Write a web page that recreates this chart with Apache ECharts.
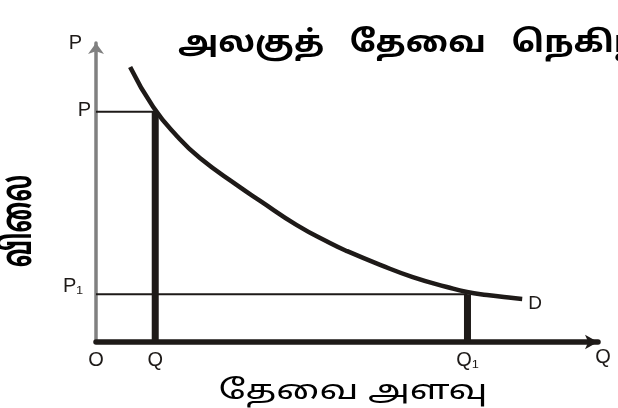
<!DOCTYPE html>
<html>
<head>
<meta charset="utf-8">
<script src="https://cdn.jsdelivr.net/npm/echarts@6/dist/echarts.min.js"></script>
<style>
  html, body { margin: 0; padding: 0; background: #fff; }
  #chart { width: 618px; height: 408px; }
</style>
</head>
<body>
<div id="chart"></div>
<script>
// demand curve D (quantity / price on 0-100 scales)
const demandQty = [6.8, 11.4, 16.1, 20.7, 28.3, 32.7, 40, 46.6, 50, 56.6, 63.1, 69.9, 73.9, 77.9, 83.1, 84.9]
const demandPrice = [92, 78.6, 68.9, 61.5, 52.2, 47.2, 39.1, 33.1, 30.4, 25.8, 21.7, 18.4, 16.7, 15.7, 14.7, 14.4]

// price levels P, P1 and matching quantities Q, Q1
const priceLevels = [77, 16]
const priceLabels = ['P', 'P₁']
const qtyLevels = [11.8, 74]
const qtyLabels = ['Q', 'Q₁']

const ink = '#1e1a18'
const latin = '"Liberation Sans", Arial, sans-serif'
const tamil = '"Noto Sans Tamil", "Lohit Tamil", "Noto Sans", sans-serif'

const chart = echarts.init(document.getElementById('chart'))

// horizontal guide from the price axis to the curve
const priceGuides = priceLevels.map((p, i) => ({
  type: 'line',
  silent: true,
  symbol: 'none',
  data: [[0, p], [qtyLevels[i], p]],
  lineStyle: { color: ink, width: 2 },
  z: 3
}))

// thick vertical bars from the curve down to the quantity axis
const qtyBars = qtyLevels.map((q, i) => ({
  type: 'line',
  silent: true,
  symbol: 'none',
  data: [[q, 0], [q, priceLevels[i]]],
  lineStyle: { color: ink, width: 7 },
  z: 3
}))

const option = {
  animation: false,
  grid: { left: 96, right: 20, top: 43, bottom: 66 },
  xAxis: {
    type: 'value',
    min: 0,
    max: 100,
    splitLine: { show: false },
    axisTick: { show: false },
    axisLine: {
      onZero: false,
      lineStyle: { color: ink, width: 5.5 },
      symbol: ['none', 'arrow'],
      symbolSize: [11, 13]
    },
    axisLabel: {
      customValues: [0].concat(qtyLevels),
      formatter: v => (v === 0 ? 'O' : qtyLabels[qtyLevels.indexOf(v)]),
      color: ink,
      fontFamily: latin,
      fontSize: 20,
      margin: 8
    },
    name: 'Q',
    nameLocation: 'end',
    nameGap: 5,
    nameTextStyle: { color: ink, fontFamily: latin, fontSize: 20, align: 'center', verticalAlign: 'top', padding: [5, 0, 0, 0] }
  },
  yAxis: {
    type: 'value',
    min: 0,
    max: 100,
    splitLine: { show: false },
    axisTick: { show: false },
    axisLine: {
      onZero: false,
      lineStyle: { color: '#808080', width: 3.5 },
      symbol: ['none', 'arrow'],
      symbolSize: [12, 11]
    },
    axisLabel: {
      customValues: priceLevels,
      formatter: v => {
        const i = priceLevels.indexOf(v)
        return i === 0 ? '{a|' + priceLabels[i] + '}' : '{b|' + priceLabels[i] + '}'
      },
      margin: 5,
      rich: {
        a: { color: ink, fontFamily: latin, fontSize: 20, padding: [0, 0, 3, 0] },
        b: { color: ink, fontFamily: latin, fontSize: 20, padding: [0, 8, 16, 0] }
      }
    },
    name: 'P',
    nameLocation: 'end',
    nameGap: 0,
    nameTextStyle: { color: ink, fontFamily: latin, fontSize: 20, align: 'right', verticalAlign: 'middle', padding: [0, 14, 0, 0] }
  },
  graphic: [
    {
      type: 'text',
      x: 178,
      y: 46,
      scaleX: 1.1,
      style: { text: 'அலகுத்   தேவை   நெகிழ்ச்சி', font: 'bold 30px ' + tamil, fill: '#000', verticalAlign: 'middle' }
    },
    {
      type: 'text',
      x: 23,
      y: 221,
      rotation: Math.PI / 2,
      scaleX: 0.8,
      scaleY: 1.4,
      style: { text: 'விலை', font: 'bold 30px ' + tamil, fill: '#000', align: 'center', verticalAlign: 'middle' }
    },
    {
      type: 'text',
      x: 353,
      y: 394,
      scaleX: 1.38,
      style: { text: 'தேவை அளவு', font: '27px ' + tamil, fill: '#000', align: 'center', verticalAlign: 'middle' }
    }
  ],
  series: [
    {
      name: 'D',
      type: 'line',
      smooth: 0.5,
      symbol: 'none',
      silent: true,
      data: demandQty.map((q, i) => [q, demandPrice[i]]),
      lineStyle: { color: ink, width: 4.5 },
      endLabel: {
        show: true,
        formatter: 'D',
        color: ink,
        fontFamily: latin,
        fontSize: 19,
        distance: 6,
        offset: [0, 5]
      },
      z: 4
    }
  ].concat(priceGuides, qtyBars)
}

chart.setOption(option)
</script>
</body>
</html>
